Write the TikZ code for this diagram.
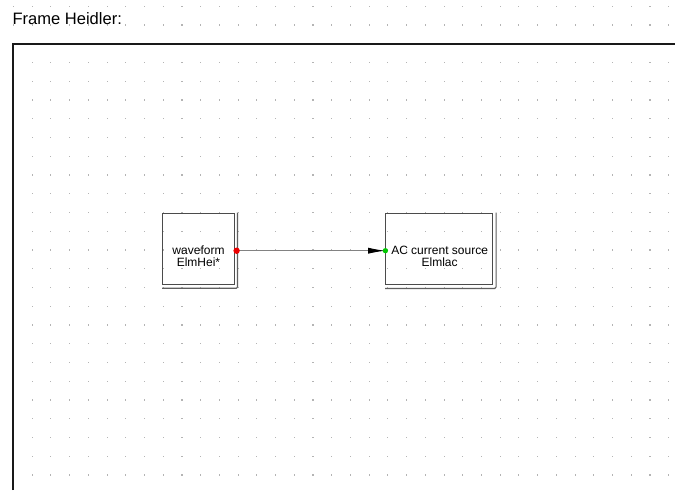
\documentclass[tikz,border=0pt]{standalone}
\usepackage{fontspec}
\setmainfont{Liberation Sans}
\usetikzlibrary{arrows.meta}

\definecolor{framecol}{RGB}{25,25,25}
\definecolor{boxcol}{RGB}{75,75,75}
\definecolor{shadowcol}{RGB}{95,95,95}
\definecolor{wirecol}{RGB}{130,130,130}
\definecolor{griddot}{RGB}{180,180,180}
\definecolor{portout}{RGB}{235,0,0}
\definecolor{portin}{RGB}{0,200,0}

\tikzset{
  frameline/.style={draw=framecol, line width=1.5pt},
  blockbox/.style={draw=boxcol, line width=0.8pt, rectangle, inner sep=0pt},
  blockshadow/.style={draw=shadowcol, line width=0.8pt},
  blocktext/.style={font=\fontsize{9}{8.6}\selectfont, align=center, inner sep=0pt, text=black},
  titletext/.style={font=\fontsize{12.4}{14}\selectfont, inner sep=0pt, anchor=base west},
  wire/.style={draw=wirecol, line width=0.8pt},
  wiretip/.style={-{Latex[length=13pt,width=4.6pt,fill=black,color=black]}},
  outdot/.style={circle, fill=portout, inner sep=0pt, minimum size=4.8pt},
  indot/.style={circle, fill=portin, inner sep=0pt, minimum size=4pt}
}

\begin{document}
\begin{tikzpicture}[x=0.75pt,y=-0.75pt]
  % canvas
  \useasboundingbox (0,0) rectangle (675,490);
  \fill[white] (0,0) rectangle (675,490);

  % snap grid
  \foreach \i in {0,...,35}{
    \foreach \j in {-2,...,23}{
      \fill[griddot] ({13.5+18.72*\i-0.55},{43.7+18.75*\j-0.55}) rectangle ++(1.1,1.1);
    }
  }

  % title and frame
  \node[titletext] (title) at (12.3,24.2) {Frame Heidler:};
  \draw[frameline] (13.2,490) -- (13.2,44) -- (675,44);

  % waveform block
  \node[blockbox, minimum width=53.6pt, minimum height=53.3pt] (wave) at (198.5,248.8) {};
  \draw[blockshadow] ([xshift=2.7*0.75pt]wave.north east) -- ([xshift=2.7*0.75pt,yshift=-2.2*0.75pt]wave.south east)
        -- ([xshift=1.5*0.75pt,yshift=-3.4*0.75pt]wave.south east) -- ([yshift=-3.4*0.75pt]wave.south west);
  \node[blocktext] (wavetext) at (198.5,256.3) {waveform\\ElmHei*};

  % AC current source block
  \node[blockbox, minimum width=80.2pt, minimum height=53.3pt] (acsrc) at (439.1,248.8) {};
  \draw[blockshadow] ([xshift=3*0.75pt]acsrc.north east) -- ([xshift=3*0.75pt,yshift=-2.2*0.75pt]acsrc.south east)
        -- ([xshift=1.7*0.75pt,yshift=-3.6*0.75pt]acsrc.south east) -- ([yshift=-3.6*0.75pt]acsrc.south west);
  \node[blocktext] (acsrctext) at (439.6,256.3) {AC current source\\Elmlac};

  % signal connection
  \coordinate (outpin) at (236.6,250.7);
  \coordinate (inpin) at (385.4,250.7);
  \draw[wire, wiretip] (outpin) -- (inpin);
  \node[outdot] (outport) at (outpin) {};
  \node[indot] (inport) at (inpin) {};
\end{tikzpicture}
\end{document}
